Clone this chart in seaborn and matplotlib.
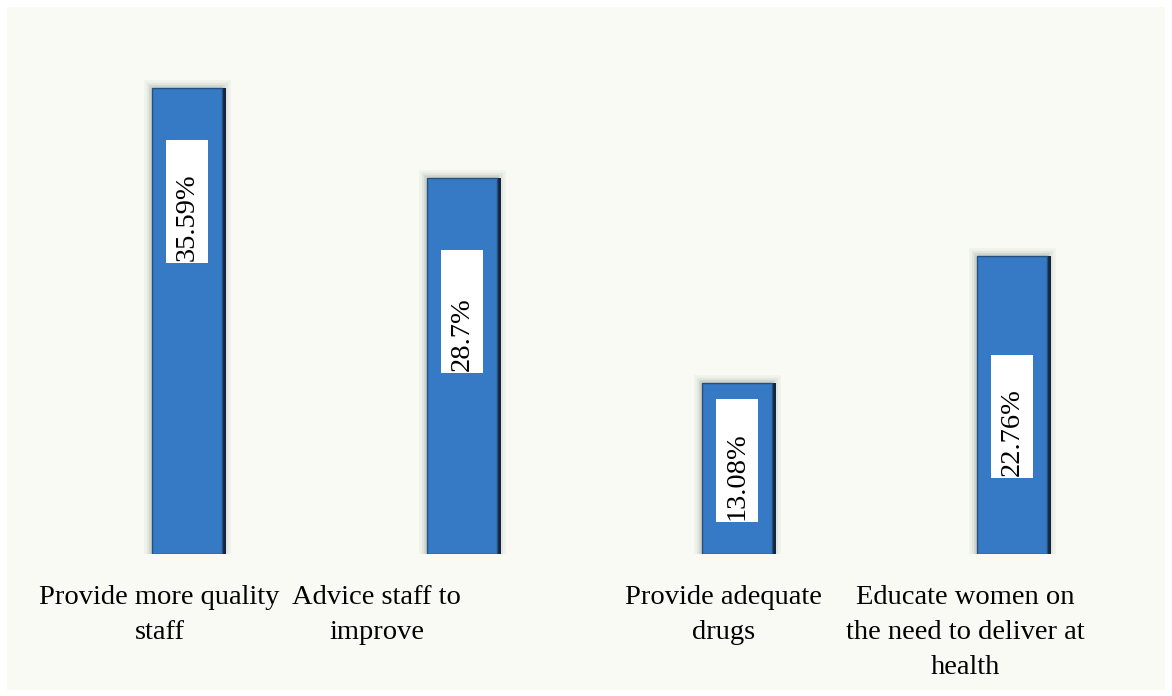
import matplotlib
matplotlib.use('Agg')
import matplotlib.pyplot as plt
import matplotlib.patheffects as pe
from matplotlib.patches import Rectangle
import seaborn as sns
import pandas as pd

# data
categories = ['Provide more quality\nstaff', 'Advice staff to\nimprove',
              'Provide adequate\ndrugs', 'Educate women on\nthe need to deliver at\nhealth']
values = [35.59, 28.7, 13.08, 22.76]
value_labels = ['35.59%', '28.7%', '13.08%', '22.76%']

# where the white label boxes sit inside each bar (data units) and label nudges
box_bottom = [22.2, 13.8, 2.45, 5.8]
label_shift = [-0.10, -0.31, -0.05, -0.17]

df = pd.DataFrame({'measure': categories, 'pct': values})

sns.set_theme(style='white')
plt.rcParams['font.family'] = ['Liberation Serif', 'DejaVu Serif']

fig = plt.figure(figsize=(11.72, 6.96), dpi=100)
fig.patch.set_facecolor('white')
# pale chart area inside a thin white frame
fig.patches.append(Rectangle((7 / 1172, 6 / 696), 1158 / 1172, 683 / 696,
                             transform=fig.transFigure, facecolor='#F8FAF3',
                             edgecolor='none', zorder=-10))

ax = fig.add_axes([0.0422, 0.204, 0.9386, 0.753])
ax.set_facecolor('none')

sns.barplot(data=df, x='measure', y='pct', width=0.255, color='#3679C4',
            edgecolor='#24507f', linewidth=1.0, saturation=1, ax=ax)

# soft grey glow around each bar and a dark bevel on the right side
for p in ax.patches:
    p.set_path_effects([
        pe.Stroke(linewidth=12, foreground='#c9d0cb', alpha=0.18),
        pe.Stroke(linewidth=8, foreground='#bcc4bf', alpha=0.25),
        pe.Stroke(linewidth=4, foreground='#a9b2ae', alpha=0.35),
        pe.SimplePatchShadow(offset=(3, 0), shadow_rgbFace='#15253c', alpha=1.0),
        pe.Normal(),
    ])

box_w = 0.153
box_h = 9.4
for i, (lab, b) in enumerate(zip(value_labels, box_bottom)):
    ax.add_patch(Rectangle((i - box_w / 2, b), box_w, box_h,
                           facecolor='white', edgecolor='none', zorder=5))
    ax.text(i, b + 0.15, lab, rotation=90, ha='center', va='bottom',
            fontsize=20.5, color='black', zorder=6)

for i, (cat, s) in enumerate(zip(categories, label_shift)):
    ax.annotate(cat, xy=(i + s, 0), xytext=(0, -22.5), textcoords='offset points',
                ha='center', va='top', multialignment='center',
                fontsize=20.5, linespacing=1.52, color='black',
                annotation_clip=False)

ax.set_xlim(-0.5, 3.5)
ax.set_ylim(0, 40)
ax.axis('off')

fig.savefig('out.png', dpi=100, facecolor=fig.get_facecolor())
